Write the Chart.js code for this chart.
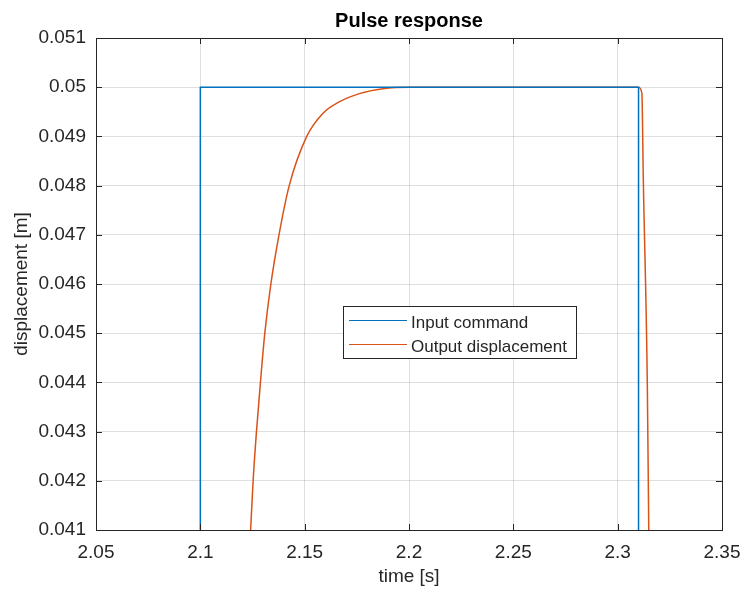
<!DOCTYPE html>
<html>
<head>
<meta charset="utf-8">
<script src="https://cdn.jsdelivr.net/npm/chart.js@4/dist/chart.umd.min.js"></script>
<style>
  html, body { margin: 0; padding: 0; background: #ffffff; }
  #wrap { width: 744px; height: 591px; position: relative; }
</style>
</head>
<body>
<div id="wrap"><canvas id="c" width="744" height="591"></canvas></div>
<script>
// Pulse command and measured response (time in s, displacement in m)
const inputTime  = [2.1,   2.1,  2.31, 2.31];
const inputDisp  = [0.041, 0.05, 0.05, 0.041];

const outputTime = [2.1241, 2.1253, 2.1269, 2.1288, 2.1309, 2.1338, 2.1377, 2.1426,
                    2.1510, 2.1588, 2.1665, 2.1762, 2.1875, 2.2005, 2.2500, 2.3100,
                    2.3116, 2.3123, 2.3142, 2.3149];
const outputDisp = [0.0410, 0.0420, 0.0430, 0.0440, 0.0450, 0.0460, 0.0470, 0.0480,
                    0.0490, 0.04947, 0.0497, 0.04987, 0.04997, 0.0500, 0.0500, 0.0500,
                    0.04988, 0.0481, 0.0440, 0.0410];

const xTicks = [2.05, 2.1, 2.15, 2.2, 2.25, 2.3, 2.35];
const yTicks = [0.041, 0.042, 0.043, 0.044, 0.045, 0.046, 0.047, 0.048, 0.049, 0.05, 0.051];
const seriesNames = ['Input command', 'Output displacement'];
const chartTitle = 'Pulse response';

const AXIS_COLOR = '#262626';
const GRID_COLOR = 'rgba(38,38,38,0.15)';
const FONT = '"Liberation Sans", Arial, Helvetica, sans-serif';

const toPoints = (xs, ys) => xs.map((x, i) => ({ x: x, y: ys[i] }));
const fmt = v => String(parseFloat(Number(v).toFixed(4)));

// Title over the plot box, box outline, inward tick marks on all four sides, in-plot legend
const matlabAxes = {
  id: 'matlabAxes',
  afterDatasetsDraw(chart) {
    const { ctx, chartArea: a, scales } = chart;
    const tl = 6;
    ctx.save();

    ctx.fillStyle = '#000000';
    ctx.font = 'bold 20px ' + FONT;
    ctx.textAlign = 'center';
    ctx.textBaseline = 'alphabetic';
    ctx.fillText(chartTitle, (a.left + a.right) / 2, a.top - 11);

    ctx.strokeStyle = AXIS_COLOR;
    ctx.lineWidth = 1;
    ctx.beginPath();
    xTicks.forEach(v => {
      const px = Math.round(scales.x.getPixelForValue(v)) + 0.5;
      ctx.moveTo(px, a.bottom); ctx.lineTo(px, a.bottom - tl);
      ctx.moveTo(px, a.top);    ctx.lineTo(px, a.top + tl);
    });
    yTicks.forEach(v => {
      const py = Math.round(scales.y.getPixelForValue(v)) + 0.5;
      ctx.moveTo(a.left, py);  ctx.lineTo(a.left + tl, py);
      ctx.moveTo(a.right, py); ctx.lineTo(a.right - tl, py);
    });
    ctx.stroke();
    ctx.strokeRect(Math.round(a.left) + 0.5, Math.round(a.top) + 0.5,
                   Math.round(a.right - a.left), Math.round(a.bottom - a.top));

    // legend
    const lx = 343.5, ly = 306.5, lw = 233, lh = 52;
    ctx.fillStyle = '#ffffff';
    ctx.fillRect(lx, ly, lw, lh);
    ctx.strokeStyle = AXIS_COLOR;
    ctx.strokeRect(lx, ly, lw, lh);
    ctx.font = '17px ' + FONT;
    ctx.textBaseline = 'alphabetic';
    ctx.textAlign = 'left';
    chart.data.datasets.forEach((ds, i) => {
      const rowY = 320.5 + i * 24;
      ctx.strokeStyle = ds.borderColor;
      ctx.lineWidth = 1.2;
      ctx.beginPath();
      ctx.moveTo(349, rowY); ctx.lineTo(407, rowY);
      ctx.stroke();
      ctx.fillStyle = AXIS_COLOR;
      ctx.fillText(ds.label, 411, rowY + 7.5);
    });
    ctx.restore();
  }
};

new Chart(document.getElementById('c'), {
  type: 'line',
  data: {
    datasets: [
      {
        label: seriesNames[0],
        data: toPoints(inputTime, inputDisp),
        borderColor: '#0072BD',
        borderWidth: 1.5,
        pointRadius: 0,
        tension: 0
      },
      {
        label: seriesNames[1],
        data: toPoints(outputTime, outputDisp),
        borderColor: '#D95319',
        borderWidth: 1.5,
        pointRadius: 0,
        cubicInterpolationMode: 'monotone'
      }
    ]
  },
  options: {
    responsive: false,
    animation: false,
    devicePixelRatio: 1,
    layout: { padding: { left: 0, right: 22, top: 38, bottom: 0 } },
    plugins: {
      legend: { display: false },
      tooltip: { enabled: false },
      title: { display: false }
    },
    scales: {
      x: {
        type: 'linear',
        min: 2.05,
        max: 2.35,
        afterBuildTicks: s => { s.ticks = xTicks.map(v => ({ value: v })); },
        afterFit: s => { s.height = 61; s.paddingLeft = 0; s.paddingRight = 0; },
        grid: { color: GRID_COLOR, drawTicks: false },
        border: { display: false },
        ticks: {
          color: AXIS_COLOR,
          padding: 11,
          maxRotation: 0,
          font: { family: FONT, size: 19 },
          callback: v => fmt(v)
        },
        title: {
          display: true,
          text: 'time [s]',
          color: AXIS_COLOR,
          font: { family: FONT, size: 19 },
          padding: { top: 0, bottom: 3 }
        }
      },
      y: {
        type: 'linear',
        min: 0.041,
        max: 0.051,
        afterBuildTicks: s => { s.ticks = yTicks.map(v => ({ value: v })); },
        afterFit: s => { s.width = 96; s.paddingTop = 0; s.paddingBottom = 0; },
        grid: { color: GRID_COLOR, drawTicks: false },
        border: { display: false },
        ticks: {
          color: AXIS_COLOR,
          padding: 10,
          font: { family: FONT, size: 19 },
          callback: v => fmt(v)
        },
        title: {
          display: true,
          text: 'displacement [m]',
          color: AXIS_COLOR,
          font: { family: FONT, size: 19 },
          padding: { top: 10, bottom: 0 }
        }
      }
    }
  },
  plugins: [matlabAxes]
});
</script>
</body>
</html>
